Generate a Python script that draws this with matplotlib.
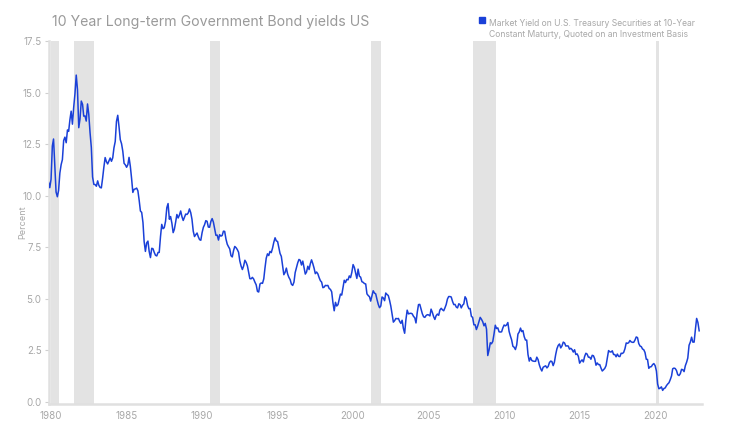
import matplotlib.pyplot as plt
import matplotlib.dates as mdates
import pandas as pd

# Monthly 10-year Treasury yield (percent), Nov 1979 .. Dec 2022
y1979 = [10.65, 10.39]
y1980 = [10.80, 12.41, 12.75, 11.47, 10.18, 9.95, 10.25, 11.10, 11.51, 11.75, 12.68, 12.84]
y1981 = [12.57, 13.19, 13.12, 13.68, 14.10, 13.47, 14.28, 14.94, 15.85, 15.15, 13.30, 13.72]
y1982 = [14.59, 14.43, 13.86, 13.87, 13.62, 14.45, 13.95, 13.06, 12.34, 10.91, 10.55, 10.54]
y1983 = [10.46, 10.72, 10.51, 10.40, 10.38, 10.85, 11.38, 11.85, 11.65, 11.54, 11.69, 11.83]
y1984 = [11.67, 11.84, 12.32, 12.63, 13.60, 13.90, 13.36, 12.72, 12.52, 12.16, 11.57, 11.50]
y1985 = [11.38, 11.51, 11.86, 11.43, 10.85, 10.16, 10.31, 10.33, 10.37, 10.24, 9.78, 9.26]
y1986 = [9.19, 8.70, 7.78, 7.30, 7.71, 7.80, 7.30, 7.00, 7.45, 7.43, 7.25, 7.11]
y1987 = [7.08, 7.25, 7.25, 8.02, 8.61, 8.40, 8.45, 8.76, 9.42, 9.62, 8.86, 8.99]
y1988 = [8.67, 8.21, 8.37, 8.72, 9.09, 8.92, 9.06, 9.26, 8.98, 8.80, 8.96, 9.11]
y1989 = [9.09, 9.17, 9.36, 9.18, 8.86, 8.28, 8.02, 8.11, 8.19, 8.01, 7.87, 7.84]
y1990 = [8.21, 8.47, 8.59, 8.79, 8.76, 8.48, 8.47, 8.75, 8.89, 8.72, 8.39, 8.08]
y1991 = [8.09, 7.85, 8.11, 8.04, 8.07, 8.28, 8.27, 7.90, 7.65, 7.53, 7.42, 7.09]
y1992 = [7.03, 7.34, 7.54, 7.48, 7.39, 7.26, 6.84, 6.59, 6.42, 6.59, 6.87, 6.77]
y1993 = [6.60, 6.26, 5.98, 5.97, 6.04, 5.96, 5.81, 5.68, 5.36, 5.33, 5.72, 5.77]
y1994 = [5.75, 5.97, 6.48, 6.97, 7.18, 7.10, 7.30, 7.24, 7.46, 7.74, 7.96, 7.81]
y1995 = [7.78, 7.47, 7.20, 7.06, 6.63, 6.17, 6.28, 6.49, 6.20, 6.04, 5.93, 5.71]
y1996 = [5.65, 5.81, 6.27, 6.51, 6.74, 6.91, 6.87, 6.64, 6.83, 6.53, 6.20, 6.30]
y1997 = [6.58, 6.42, 6.69, 6.89, 6.71, 6.49, 6.22, 6.30, 6.21, 6.03, 5.88, 5.81]
y1998 = [5.54, 5.57, 5.65, 5.64, 5.65, 5.50, 5.46, 5.34, 4.81, 4.42, 4.83, 4.65]
y1999 = [4.72, 5.00, 5.23, 5.18, 5.54, 5.90, 5.79, 5.94, 5.92, 6.11, 6.03, 6.28]
y2000 = [6.66, 6.52, 6.26, 5.99, 6.44, 6.10, 6.05, 5.83, 5.80, 5.74, 5.72, 5.24]
y2001 = [5.16, 5.10, 4.89, 5.14, 5.39, 5.28, 5.24, 4.97, 4.73, 4.57, 4.65, 5.09]
y2002 = [5.04, 4.91, 5.28, 5.21, 5.16, 4.93, 4.65, 4.26, 3.87, 3.94, 4.05, 4.03]
y2003 = [4.05, 3.90, 3.81, 3.96, 3.57, 3.33, 3.98, 4.45, 4.27, 4.29, 4.30, 4.27]
y2004 = [4.15, 4.08, 3.83, 4.35, 4.72, 4.73, 4.50, 4.28, 4.13, 4.10, 4.19, 4.23]
y2005 = [4.22, 4.17, 4.50, 4.34, 4.14, 4.00, 4.18, 4.26, 4.20, 4.46, 4.54, 4.47]
y2006 = [4.42, 4.57, 4.72, 4.99, 5.11, 5.11, 5.09, 4.88, 4.72, 4.73, 4.60, 4.56]
y2007 = [4.76, 4.72, 4.56, 4.69, 4.75, 5.10, 5.00, 4.67, 4.52, 4.53, 4.15, 4.10]
y2008 = [3.74, 3.74, 3.51, 3.68, 3.88, 4.10, 4.01, 3.89, 3.69, 3.81, 3.53, 2.25]
y2009 = [2.52, 2.87, 2.82, 2.93, 3.29, 3.72, 3.56, 3.59, 3.40, 3.39, 3.40, 3.59]
y2010 = [3.73, 3.69, 3.73, 3.85, 3.42, 3.20, 3.01, 2.70, 2.65, 2.54, 2.76, 3.29]
y2011 = [3.39, 3.58, 3.41, 3.46, 3.17, 3.00, 3.00, 2.30, 1.98, 2.15, 2.01, 1.98]
y2012 = [1.97, 1.97, 2.17, 2.05, 1.80, 1.62, 1.50, 1.68, 1.72, 1.75, 1.65, 1.72]
y2013 = [1.91, 1.98, 1.96, 1.76, 1.93, 2.30, 2.58, 2.74, 2.81, 2.62, 2.72, 2.90]
y2014 = [2.86, 2.71, 2.72, 2.71, 2.56, 2.60, 2.54, 2.42, 2.53, 2.30, 2.33, 2.21]
y2015 = [1.88, 1.98, 2.04, 1.94, 2.20, 2.36, 2.32, 2.17, 2.17, 2.07, 2.26, 2.24]
y2016 = [2.09, 1.78, 1.89, 1.81, 1.81, 1.64, 1.50, 1.56, 1.63, 1.76, 2.14, 2.49]
y2017 = [2.43, 2.42, 2.48, 2.30, 2.30, 2.19, 2.32, 2.21, 2.20, 2.36, 2.35, 2.40]
y2018 = [2.58, 2.86, 2.84, 2.87, 2.98, 2.91, 2.89, 2.89, 3.00, 3.15, 3.12, 2.83]
y2019 = [2.71, 2.68, 2.57, 2.53, 2.40, 2.07, 2.06, 1.63, 1.70, 1.71, 1.81, 1.86]
y2020 = [1.76, 1.50, 0.87, 0.64, 0.67, 0.73, 0.56, 0.65, 0.68, 0.79, 0.87, 0.93]
y2021 = [1.08, 1.26, 1.61, 1.64, 1.62, 1.52, 1.32, 1.28, 1.37, 1.58, 1.56, 1.47]
y2022 = [1.76, 1.93, 2.13, 2.75, 2.90, 3.14, 2.90, 2.90, 3.52, 4.05, 3.85, 3.45]

yields = (y1979 + y1980 + y1981 + y1982 + y1983 + y1984 + y1985 + y1986 + y1987
          + y1988 + y1989 + y1990 + y1991 + y1992 + y1993 + y1994 + y1995 + y1996
          + y1997 + y1998 + y1999 + y2000 + y2001 + y2002 + y2003 + y2004 + y2005
          + y2006 + y2007 + y2008 + y2009 + y2010 + y2011 + y2012 + y2013 + y2014
          + y2015 + y2016 + y2017 + y2018 + y2019 + y2020 + y2021 + y2022)
dates = pd.date_range("1979-11-01", periods=len(yields), freq="MS")

# US recessions (start, end)
recessions = [("1980-01-01", "1980-07-15"), ("1981-07-01", "1982-11-15"),
              ("1990-07-01", "1991-03-15"), ("2001-03-01", "2001-11-15"),
              ("2007-12-01", "2009-06-15"), ("2020-02-01", "2020-04-15")]

title = "10 Year Long-term Government Bond yields US"
legend_label = ("Market Yield on U.S. Treasury Securities at 10-Year\n"
                "Constant Maturty, Quoted on an Investment Basis")

blue = "#1a40d8"
grey_text = "#a8a8a8"
plt.rcParams["font.family"] = ["Inter", "DejaVu Sans"]

fig = plt.figure(figsize=(7.41, 4.30), dpi=100)
ax = fig.add_axes([0.0655, 0.0605, 0.882, 0.844])

for start, end in recessions:
    ax.axvspan(pd.Timestamp(start), pd.Timestamp(end), color="#e3e3e3", lw=0, zorder=0)

ax.plot(dates, yields, color=blue, lw=1.1, zorder=3)

ax.set_xlim(pd.Timestamp("1979-11-01"), pd.Timestamp("2023-02-10"))
ax.set_ylim(-0.1, 17.5)
ax.set_yticks([0, 2.5, 5, 7.5, 10, 12.5, 15, 17.5])
ax.yaxis.set_major_formatter(plt.FormatStrFormatter("%.1f"))
ax.xaxis.set_major_locator(mdates.YearLocator(5))
ax.xaxis.set_major_formatter(mdates.DateFormatter("%Y"))

for s in ["top", "right"]:
    ax.spines[s].set_visible(False)
for s in ["left", "bottom"]:
    ax.spines[s].set_color("#e0e0e0")
    ax.spines[s].set_linewidth(1.8)
ax.tick_params(axis="y", colors="#d0d0d0", labelcolor=grey_text, labelsize=7, length=3, pad=2)
ax.tick_params(axis="x", colors="#d0d0d0", labelcolor=grey_text, labelsize=7, length=0, pad=5)
ax.set_ylabel("Percent", color=grey_text, fontsize=6.5)
ax.yaxis.set_label_coords(-0.032, 0.5)

fig.text(0.070, 0.949, title, color="#9a9a9a", fontsize=10.2, va="center", ha="left")
fig.patches.append(plt.Rectangle((0.6465, 0.947), 0.0075, 0.013, transform=fig.transFigure,
                                 color=blue, figure=fig))
fig.text(0.660, 0.955, legend_label, color=grey_text, fontsize=6.2, va="top", ha="left",
         linespacing=1.2)

fig.savefig("out.png", dpi=100)
